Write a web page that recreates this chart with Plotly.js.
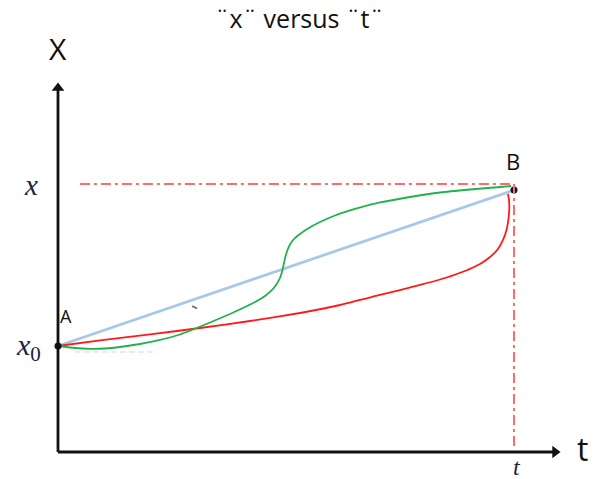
<!DOCTYPE html>
<html>
<head>
<meta charset="utf-8">
<script src="https://cdn.plot.ly/plotly-3.0.1.min.js"></script>
<style>html,body{margin:0;padding:0;background:#fff;}#chart{width:599px;height:479px;}</style>
</head>
<body>
<div id="chart"></div>
<script>
// Schematic data: t from 0 (A) to 1 (B); X from 0 (axis) with x0 = 0.403 and x ≈ 1
const pointNames = ["A", "B"];
const pointT = [0, 1];
const pointX = [0.403, 0.996];

const lineT = [0, 1];
const lineX = [0.403, 0.996];

const greenT = [0, 0.0373, 0.0702, 0.1031, 0.1360, 0.1798, 0.2237, 0.2675, 0.2961, 0.3333, 0.3772, 0.4101, 0.4342, 0.4539, 0.4671, 0.4781, 0.4868, 0.4923, 0.4956, 0.4989, 0.5033, 0.5088, 0.5175, 0.5307, 0.5482, 0.5746, 0.6075, 0.6513, 0.7061, 0.7719, 0.8377, 0.9035, 0.9693, 0.9934];
const greenX = [0.4030, 0.3954, 0.3924, 0.3935, 0.3992, 0.4106, 0.4259, 0.4468, 0.4658, 0.4924, 0.5247, 0.5513, 0.5722, 0.5932, 0.6122, 0.6350, 0.6616, 0.6920, 0.7186, 0.7433, 0.7681, 0.7890, 0.8099, 0.8289, 0.8498, 0.8745, 0.8992, 0.9240, 0.9487, 0.9696, 0.9867, 0.9981, 1.0076, 1.0114];

const redT = [0, 0.0921, 0.2018, 0.3114, 0.4211, 0.5307, 0.6184, 0.7061, 0.7939, 0.8487, 0.8925, 0.9254, 0.9474, 0.9649, 0.9759, 0.9836, 0.9879, 0.9897, 0.9890, 0.9868];
const redX = [0.4030, 0.4240, 0.4468, 0.4715, 0.4981, 0.5285, 0.5589, 0.5970, 0.6350, 0.6616, 0.6882, 0.7148, 0.7414, 0.7719, 0.8061, 0.8441, 0.8859, 0.9278, 0.9582, 0.9810];

const levelX = 1.019;     // dash-dot level of x
const levelStartT = 0.048;
const tAxisEnd = 1.101;
const xAxisEnd = 1.407;

const traces = [
  {x: lineT, y: lineX, mode: "lines", line: {color: "#a8c8e8", width: 2.8}, hoverinfo: "skip"},
  {x: redT, y: redX, mode: "lines", line: {color: "#ff1a1a", width: 1.8, shape: "spline", smoothing: 0.4}, hoverinfo: "skip"},
  {x: greenT, y: greenX, mode: "lines", line: {color: "#22b14c", width: 1.8, shape: "spline", smoothing: 0.4}, hoverinfo: "skip"},
  {x: [tAxisEnd - 0.011], y: [0], mode: "markers", marker: {symbol: "triangle-right", size: 11, color: "#111"}, hoverinfo: "skip"},
  {x: [0], y: [xAxisEnd - 0.023], mode: "markers", marker: {symbol: "triangle-up", size: 11, color: "#111"}, hoverinfo: "skip"},
  {x: pointT, y: pointX, mode: "markers", marker: {color: "#0d1526", size: 7}, hoverinfo: "skip"}
];

const shapes = [
  {type: "line", x0: levelStartT, x1: 1, y0: levelX, y1: levelX, line: {color: "#ff6b6b", width: 2, dash: "10px,4px,3px,4px"}},
  {type: "line", x0: 1, x1: 1, y0: levelX, y1: 0.01, line: {color: "#ff6b6b", width: 2, dash: "10px,4px,3px,4px"}},
  {type: "line", x0: 0.037, x1: 0.213, y0: 0.380, y1: 0.380, line: {color: "#dcebd8", width: 1.5, dash: "6px,3px"}},
  {type: "line", x0: 0.294, x1: 0.305, y0: 0.555, y1: 0.546, line: {color: "#777", width: 2}},
  {type: "line", x0: 0, x1: tAxisEnd - 0.015, y0: 0, y1: 0, line: {color: "#111", width: 2.8}},
  {type: "line", x0: 0, x1: 0, y0: 0, y1: xAxisEnd - 0.03, line: {color: "#111", width: 2.8}}
];

const annotations = [
  {x: 0, y: 1.535, xref: "x", yref: "y", text: "X", showarrow: false, font: {family: "Open Sans", size: 30, color: "#111"}},
  {x: 1.150, y: 0.015, xref: "x", yref: "y", text: "t", showarrow: false, font: {family: "Open Sans", size: 32, color: "#111"}},
  {x: 1.007, y: -0.058, xref: "x", yref: "y", text: "<i>t</i>", showarrow: false, borderpad: 0, font: {family: "Liberation Serif", size: 24, color: "#1b2440"}},
  {x: -0.059, y: 1.015, xref: "x", yref: "y", text: "<i>x</i>", showarrow: false, font: {family: "Liberation Serif", size: 29, color: "#1b2440"}},
  {x: -0.065, y: 0.40, xref: "x", yref: "y", text: "<i>x</i><sub>0</sub>", showarrow: false, font: {family: "Liberation Serif", size: 30, color: "#1b2440"}},
  {x: 0.018, y: 0.517, xref: "x", yref: "y", text: pointNames[0], showarrow: false, font: {family: "Open Sans", size: 18, color: "#111"}},
  {x: 0.997, y: 1.105, xref: "x", yref: "y", text: pointNames[1], showarrow: false, font: {family: "Open Sans", size: 22, color: "#111"}}
];

const layout = {
  width: 599, height: 479,
  margin: {l: 0, r: 0, t: 0, b: 0},
  paper_bgcolor: "#fff", plot_bgcolor: "#fff",
  showlegend: false,
  title: {text: "¨x¨ versus ¨t¨", x: 0.5, xanchor: "center", y: 0.96, yanchor: "middle", font: {family: "Open Sans", size: 25, color: "#111"}},
  xaxis: {range: [-0.1272, 1.1864], visible: false, fixedrange: true},
  yaxis: {range: [-0.1027, 1.7186], visible: false, fixedrange: true},
  shapes: shapes,
  annotations: annotations
};

Plotly.newPlot("chart", traces, layout, {staticPlot: true, displayModeBar: false});
</script>
</body>
</html>
